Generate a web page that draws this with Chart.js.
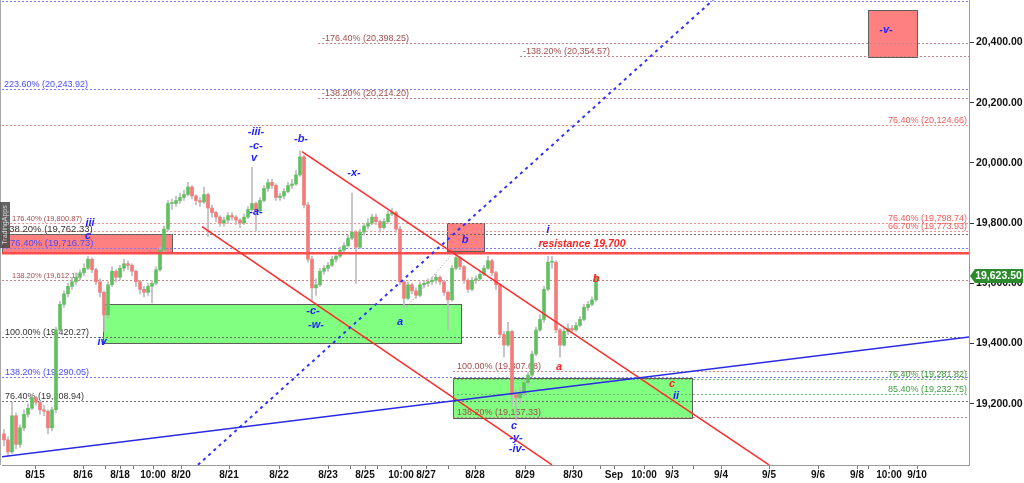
<!DOCTYPE html>
<html lang="en">
<head>
<meta charset="UTF-8">
<title>NQ - Elliott wave count</title>
<script src="https://cdn.jsdelivr.net/npm/chart.js"></script>
<style>
    html, body { margin: 0; padding: 0; background: #fff; }
    #wrap { width: 1024px; height: 483px; }
</style>
</head>
<body>
<div id="wrap"><canvas id="chart" width="1024" height="483"></canvas></div>
<script>
// price candles, one per bar index (open = previous close)
const firstOpen = 19100;
const closes = [19080,19040,19160,19065,19120,19165,19185,19220,19205,19180,
    19175,19120,19180,19445,19530,19565,19590,19605,19620,19635,
    19650,19680,19645,19605,19570,19495,19595,19640,19620,19650,
    19665,19660,19640,19605,19580,19570,19590,19600,19645,19710,
    19780,19865,19865,19875,19885,19895,19920,19890,19875,19870,
    19895,19850,19835,19820,19800,19810,19825,19820,19810,19800,
    19820,19845,19865,19840,19875,19915,19935,19925,19885,19890,
    19905,19925,19930,19960,20020,19860,19680,19585,19595,19640,
    19650,19660,19680,19690,19710,19725,19750,19770,19720,19770,
    19790,19800,19820,19805,19785,19805,19830,19835,19780,19605,
    19550,19595,19575,19560,19595,19600,19605,19610,19620,19605,
    19570,19545,19650,19685,19655,19610,19580,19610,19615,19630,
    19650,19675,19635,19595,19430,19395,19440,19230,19220,19235,
    19270,19295,19365,19445,19480,19580,19670,19670,19445,19395,
    19440,19450,19445,19460,19480,19520,19530,19545,19623.5];
const highs = [19115,19090,19205,19170,19130,19180,19200,19230,19225,19210,
    19195,19180,19190,19455,19540,19575,19600,19620,19635,19645,
    19665,19690,19685,19650,19615,19575,19605,19655,19645,19660,
    19680,19675,19665,19645,19610,19590,19600,19610,19655,19720,
    19790,19875,19880,19890,19900,19910,19935,19925,19895,19885,
    19920,19900,19860,19840,19825,19820,19835,19835,19825,19815,
    19830,19855,19985,19870,19885,19925,19945,19945,19930,19900,
    19915,19935,19945,19975,20040,20025,19870,19690,19615,19650,
    19660,19670,19690,19700,19720,19735,19760,19900,19775,19780,
    19800,19815,19830,19830,19810,19815,19840,19850,19840,19790,
    19610,19605,19600,19585,19605,19610,19615,19620,19630,19625,
    19610,19575,19660,19695,19690,19660,19615,19620,19625,19640,
    19660,19690,19680,19640,19600,19440,19470,19445,19245,19255,
    19280,19305,19375,19455,19495,19590,19690,19690,19675,19450,
    19450,19465,19460,19470,19490,19530,19540,19555,19630];
const lows = [19060,19025,19035,19050,19055,19110,19155,19180,19195,19165,
    19160,19100,19110,19170,19440,19520,19555,19580,19595,19610,
    19625,19645,19635,19595,19555,19440,19485,19590,19605,19610,
    19640,19645,19625,19590,19565,19555,19560,19535,19595,19640,
    19700,19775,19845,19855,19865,19875,19890,19880,19860,19855,
    19865,19755,19820,19805,19790,19790,19800,19810,19795,19785,
    19795,19815,19840,19775,19835,19870,19905,19915,19875,19875,
    19880,19900,19915,19925,19955,19850,19670,19545,19560,19590,
    19630,19640,19655,19670,19685,19700,19720,19745,19600,19715,
    19760,19780,19795,19795,19770,19780,19800,19825,19770,19595,
    19520,19545,19565,19550,19555,19585,19590,19595,19600,19595,
    19560,19445,19540,19645,19645,19600,19570,19575,19600,19610,
    19625,19645,19625,19580,19420,19355,19390,19190,19145,19200,
    19225,19260,19290,19360,19440,19470,19575,19650,19435,19355,
    19390,19430,19435,19440,19455,19475,19510,19525,19540];
const lastPrice = 19623.50;

// time axis (bar index units)
const dateLabels = ['8/15','8/16','8/18','10:00','8/20','8/21','8/22','8/23','8/25','10:00','8/27','8/28',
    '8/29','8/30','Sep','10:00','9/3','9/4','9/5','9/6','9/8','10:00','9/10'];
const datePositions = [7.75,19.75,29,37.25,44.25,56.25,68.75,81,90.25,99.25,105.5,117.75,
    130.25,142.25,152.5,160,167,179.25,191.25,203.5,213.25,221.25,228.25];
const minorTicks = [25.25,32.25,86.5,93.25,111,149,172.25,216];
const xMin = -0.5, xMax = 241.25;

// price axis
const priceTicks = [19200,19400,19600,19800,20000,20200,20400];
const yMin = 18996.5, yMax = 20541;

// fibonacci levels
const levelValues = [20538,20398.25,20354.57,20243.92,20214.20,20124.66,19800.87,19798.74,19773.93,
    19762.33,19716.73,19612.11,19420.27,19307.68,19290.05,19281.82,19232.75,19208.94,19157.33];
const levelNames = [null,'-176.40%','-138.20%','223.60%','-138.20%','76.40%','176.40%','76.40%','66.70%',
    '138.20%','76.40%','138.20%','100.00%','100.00%','138.20%','76.40%','85.40%','76.40%','138.20%'];
const resistance = 19700;

// wave count labels: text, bar, price
const waveLabels = [
    ['iii',21.5,19801,'b'],['c',21,19758,'b'],['iv',24.5,19406,'b'],
    ['-iii-',63,20103,'b'],['-c-',63,20057,'b'],['v',62.5,20017,'b'],
    ['-b-',74.25,20080,'b'],['-a-',63,19837,'b'],['-x-',87.5,19967,'b'],
    ['-c-',77.25,19509,'b'],['-w-',78,19462,'b'],['a',99,19472,'b'],
    ['b',115.25,19744,'b'],['i',136,19778,'b'],
    ['resistance 19,700',144.5,19731,'r'],['b',148,19615,'r'],['a',138.75,19323,'r'],
    ['c',127.5,19127,'b'],['-y-',128,19087,'b'],['-iv-',128.25,19051,'b'],
    ['c',167,19266,'r'],['ii',168,19227,'b'],['-v-',220.5,20442,'b']
];

// zones: bar from, bar to, top price, bottom price
const zones = [
    [-0.5,42,19762.33,19700,'red'],
    [24.75,114.25,19532,19403,'green'],
    [110.75,120,19801,19708,'red'],
    [112.25,172,19287,19153,'green'],
    [216,228.25,20508,20352,'red']
];

// trend lines: bar, price, bar, price
const trendLines = [
    [74.5,20037,191.25,18997,'red'],
    [49.5,19788,137,18997,'red'],
    [-0.5,19024,241.25,19422,'blue'],
    [48.5,18997,177.25,20541,'blueDot'],
    [100.75,19522,112.25,19701,'thinDot']
];

// ---------- looks ----------
const FONT = '"Liberation Sans", Arial, sans-serif';
const ink = {
    blue:  ['#7a7aff', '#4b4bff'],
    brown: ['#c98585', '#a34c4c'],
    light: ['#f49090', '#f05c5c'],
    gray:  ['#6a6a6a', '#333333'],
    green: ['#70bb70', '#3f9c3f']
};
// kind, line starts at bar, label bar ('R' = right side), font size
const levelLook = [
    ['blue',-0.5,null,9],['brown',78.5,79.5,9],['brown',129,129.75,9],['blue',-0.5,0,9],
    ['brown',78.5,79.5,9],['light',-0.5,'R',9],['brown',-0.5,2,7.5],['light',-0.5,'R',9],
    ['light',-0.5,'R',9],['gray',-0.5,0,9.5],['blue',-0.5,1.5,9.5],['brown',-0.5,2,7.5],
    ['gray',-0.5,0.25,9],['brown',112.25,113.25,9],['blue',-0.5,0.25,9],['green',112.25,'R',9],
    ['green',112.25,'R',9],['gray',-0.5,0.25,9],['brown',112.25,113.25,9]
];
const lineLook = {
    red: ['#ff2a2a', 1.5, []],
    blue: ['#2a2ae6', 1.5, []],
    blueDot: ['#3030ff', 2, [3, 4]],
    thinDot: ['#c08a8a', 1, [1, 2]]
};

const fmt = v => v.toLocaleString('en-US', { minimumFractionDigits: 2, maximumFractionDigits: 2 });

const opens = closes.map((c, i) => i === 0 ? firstOpen : closes[i - 1]);

const overlay = {
    id: 'overlay',
    beforeDatasetsDraw(chart) {
        const { ctx, chartArea: a, scales: { x, y } } = chart;
        ctx.save();
        ctx.beginPath();
        ctx.rect(a.left, a.top, a.width, a.height);
        ctx.clip();

        // boxes
        zones.forEach(([b0, b1, hi, lo, kind]) => {
            const x0 = Math.round(x.getPixelForValue(b0)), x1 = Math.round(x.getPixelForValue(b1));
            const y0 = Math.round(y.getPixelForValue(hi)), y1 = Math.round(y.getPixelForValue(lo));
            ctx.fillStyle = kind === 'red' ? '#ff8080' : '#80ff80';
            ctx.fillRect(x0, y0, x1 - x0, y1 - y0);
            ctx.strokeStyle = '#5e5e5e';
            ctx.lineWidth = 1;
            ctx.strokeRect(x0 + 0.5, y0 + 0.5, x1 - x0, y1 - y0);
        });

        // fib levels
        levelValues.forEach((v, i) => {
            const [kind, from, labelAt, size] = levelLook[i];
            const py = Math.round(y.getPixelForValue(v)) + 0.5;
            ctx.strokeStyle = ink[kind][0];
            ctx.lineWidth = 1;
            ctx.setLineDash([2, 2]);
            ctx.beginPath();
            ctx.moveTo(x.getPixelForValue(from), py);
            ctx.lineTo(a.right, py);
            ctx.stroke();
            ctx.setLineDash([]);
            if (labelAt === null) return;
            ctx.font = size + 'px ' + FONT;
            ctx.fillStyle = ink[kind][1];
            ctx.textBaseline = 'alphabetic';
            const text = levelNames[i] + ' (' + fmt(v) + ')';
            if (labelAt === 'R') {
                ctx.textAlign = 'right';
                ctx.fillText(text, a.right - 2, py - 3);
            } else {
                ctx.textAlign = 'left';
                ctx.fillText(text, x.getPixelForValue(labelAt), py - 3);
            }
        });
        ctx.restore();
    },
    afterDatasetsDraw(chart) {
        const { ctx, chartArea: a, scales: { x, y } } = chart;
        ctx.save();
        ctx.beginPath();
        ctx.rect(a.left, a.top, a.width, a.height);
        ctx.clip();

        // resistance line
        const ry = y.getPixelForValue(resistance);
        ctx.strokeStyle = '#ff4d4d';
        ctx.lineWidth = 2.5;
        ctx.beginPath();
        ctx.moveTo(a.left, ry);
        ctx.lineTo(a.right, ry);
        ctx.stroke();

        trendLines.forEach(([b0, v0, b1, v1, kind]) => {
            const [color, w, dash] = lineLook[kind];
            ctx.strokeStyle = color;
            ctx.lineWidth = w;
            ctx.setLineDash(dash);
            ctx.beginPath();
            ctx.moveTo(x.getPixelForValue(b0), y.getPixelForValue(v0));
            ctx.lineTo(x.getPixelForValue(b1), y.getPixelForValue(v1));
            ctx.stroke();
        });
        ctx.setLineDash([]);

        // wave labels
        ctx.textAlign = 'center';
        ctx.textBaseline = 'middle';
        waveLabels.forEach(([t, b, v, c]) => {
            ctx.font = 'italic bold ' + (t.length > 5 ? 10.5 : 11) + 'px ' + FONT;
            ctx.fillStyle = c === 'r' ? '#ff2222' : '#1f1fff';
            ctx.fillText(t, x.getPixelForValue(b), y.getPixelForValue(v));
        });
        ctx.restore();
    },
    afterDraw(chart) {
        const { ctx, chartArea: a, scales: { y } } = chart;
        ctx.save();
        // left frame
        ctx.strokeStyle = '#a8a8a8';
        ctx.lineWidth = 1;
        ctx.beginPath();
        ctx.moveTo(a.left - 1.5, a.top);
        ctx.lineTo(a.left - 1.5, a.bottom);
        ctx.stroke();

        // last price tag
        const py = Math.round(y.getPixelForValue(lastPrice));
        ctx.fillStyle = '#2b8a2b';
        ctx.beginPath();
        ctx.moveTo(a.right + 1, py);
        ctx.lineTo(a.right + 6, py - 7);
        ctx.lineTo(1023, py - 7);
        ctx.lineTo(1023, py + 7);
        ctx.lineTo(a.right + 6, py + 7);
        ctx.closePath();
        ctx.fill();
        ctx.fillStyle = '#fff';
        ctx.font = 'bold 10.5px ' + FONT;
        ctx.textAlign = 'center';
        ctx.textBaseline = 'middle';
        ctx.fillText(fmt(lastPrice), (a.right + 1024) / 2 + 2, py + 0.5);

        // side tab
        ctx.fillStyle = 'rgba(70,70,70,0.85)';
        ctx.fillRect(0, 202, 10, 46);
        ctx.translate(5.5, 225);
        ctx.rotate(-Math.PI / 2);
        ctx.fillStyle = '#d8d8d8';
        ctx.font = '7px ' + FONT;
        ctx.textAlign = 'center';
        ctx.textBaseline = 'middle';
        ctx.fillText('TradingApps', 0, 0);
        ctx.restore();
    }
};

const bodies = {
    label: 'body',
    data: closes.map((c, i) => ({ x: i, y: [opens[i], c] })),
    backgroundColor: closes.map((c, i) => c >= opens[i] ? '#62c062' : '#f27c7c'),
    barThickness: 3,
    minBarLength: 1,
    grouped: false,
    order: 0
};
const wicks = {
    label: 'wick',
    data: closes.map((c, i) => ({ x: i, y: [lows[i], highs[i]] })),
    backgroundColor: '#bcbcbc',
    barThickness: 1,
    grouped: false,
    order: 1
};

new Chart(document.getElementById('chart'), {
    type: 'bar',
    data: { datasets: [bodies, wicks] },
    options: {
        responsive: false,
        animation: false,
        devicePixelRatio: 1,
        layout: { padding: { left: 2, top: 0, right: 0, bottom: 0 } },
        plugins: { legend: { display: false }, tooltip: { enabled: false } },
        scales: {
            x: {
                type: 'linear',
                min: xMin,
                max: xMax,
                offset: false,
                grid: { drawOnChartArea: false, drawTicks: true, tickLength: 4, color: '#777', offset: false },
                border: { color: '#9a9a9a' },
                ticks: {
                    autoSkip: false,
                    maxRotation: 0,
                    padding: 0,
                    color: '#111',
                    font: { family: FONT, size: 10, weight: 'bold' },
                    callback: v => {
                        const k = datePositions.indexOf(v);
                        return k >= 0 ? dateLabels[k] : '';
                    }
                },
                afterBuildTicks: s => {
                    s.ticks = datePositions.concat(minorTicks).sort((p, q) => p - q).map(v => ({ value: v }));
                },
                afterFit: s => {
                    s.height = 18;
                    s.paddingLeft = 0;
                    s.paddingRight = 0;
                }
            },
            y: {
                position: 'right',
                min: yMin,
                max: yMax,
                grid: { drawOnChartArea: false, drawTicks: true, tickLength: 5, color: '#333' },
                border: { color: '#9a9a9a' },
                ticks: {
                    padding: 2,
                    color: '#111',
                    font: { family: FONT, size: 10.5, weight: 'bold' },
                    callback: v => fmt(v)
                },
                afterBuildTicks: s => {
                    s.ticks = priceTicks.map(v => ({ value: v }));
                },
                afterFit: s => {
                    s.width = 55;
                    s.paddingTop = 0;
                    s.paddingBottom = 0;
                }
            }
        }
    },
    plugins: [overlay]
});
</script>
</body>
</html>
